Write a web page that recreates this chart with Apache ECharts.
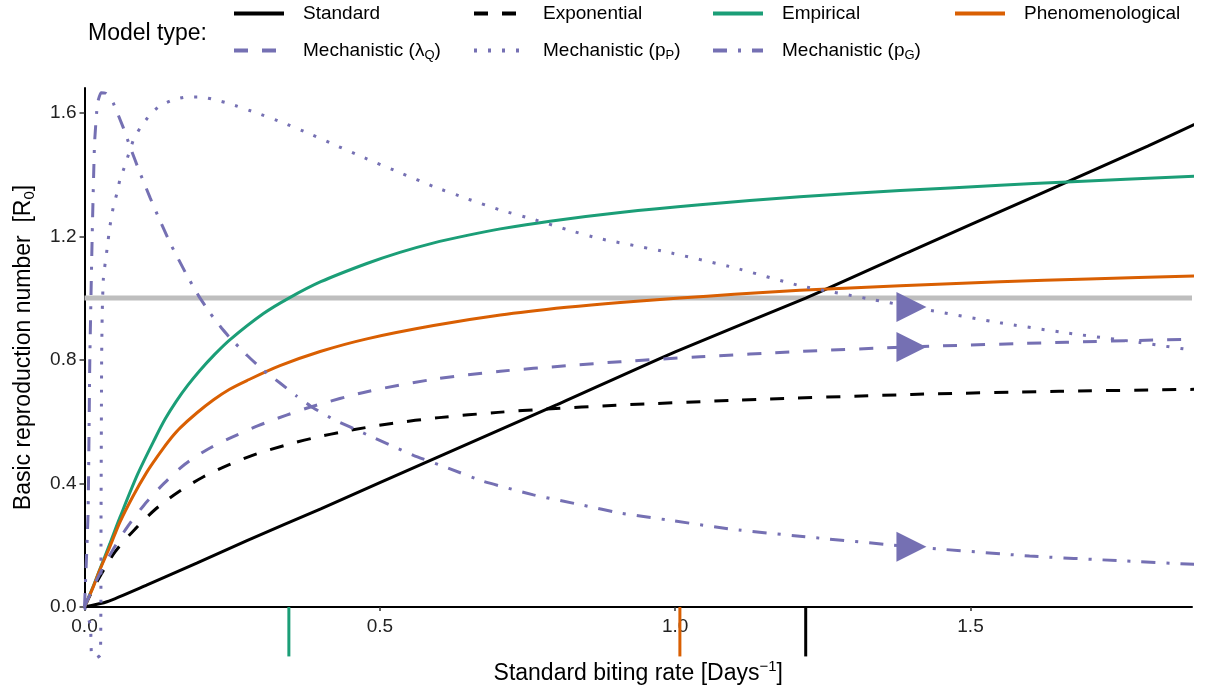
<!DOCTYPE html>
<html><head><meta charset="utf-8">
<script src="https://cdn.jsdelivr.net/npm/echarts@6/dist/echarts.min.js"></script>
<style>html,body{margin:0;padding:0;background:#fff}#c{width:1213px;height:695px}</style>
</head><body><div id="c"></div>
<script>
// ---------- data ----------
const xTicks = [0, 0.5, 1.0, 1.5];
const yTicks = [0, 0.4, 0.8, 1.2, 1.6];
const xMax = 1.875;
const yMax = 1.68;

const standard = [[0,0],[0.038,0.017],[0.105,0.071],[0.19,0.142],[0.275,0.215],[0.4,0.318],[0.6,0.487],[0.8,0.655],[1.0,0.826],[1.221,1.0],[1.4,1.153],[1.6,1.322],[1.8,1.492],[1.894,1.575]];
const exponential = [[0,0],[0.022,0.085],[0.052,0.179],[0.086,0.253],[0.121,0.318],[0.157,0.37],[0.2,0.42],[0.244,0.46],[0.289,0.494],[0.337,0.522],[0.385,0.546],[0.45,0.572],[0.52,0.594],[0.6,0.613],[0.7,0.63],[0.783,0.641],[0.9,0.653],[1.1,0.669],[1.4,0.688],[1.65,0.698],[1.894,0.705]];
const empirical = [[0,0],[0.015,0.068],[0.026,0.122],[0.043,0.205],[0.06,0.29],[0.09,0.43],[0.12,0.548],[0.137,0.61],[0.155,0.665],[0.175,0.718],[0.195,0.765],[0.22,0.817],[0.246,0.865],[0.303,0.95],[0.346,1.0],[0.4,1.053],[0.478,1.112],[0.534,1.148],[0.59,1.178],[0.648,1.203],[0.704,1.224],[0.788,1.249],[0.907,1.277],[1.042,1.302],[1.211,1.328],[1.381,1.348],[1.55,1.365],[1.663,1.376],[1.894,1.396]];
const phenomenological = [[0,0],[0.015,0.066],[0.026,0.12],[0.043,0.195],[0.06,0.275],[0.083,0.362],[0.105,0.435],[0.12,0.478],[0.133,0.513],[0.147,0.548],[0.162,0.58],[0.19,0.628],[0.218,0.67],[0.245,0.704],[0.275,0.733],[0.331,0.781],[0.399,0.827],[0.478,0.868],[0.591,0.911],[0.704,0.945],[0.816,0.97],[0.907,0.986],[1.008,1.0],[1.1,1.012],[1.211,1.025],[1.381,1.04],[1.55,1.053],[1.7,1.062],[1.894,1.072]];
const mechLambdaQ = [[0,0],[0.02,0.085],[0.045,0.175],[0.07,0.252],[0.1,0.328],[0.135,0.401],[0.17,0.462],[0.208,0.51],[0.249,0.549],[0.294,0.587],[0.342,0.621],[0.387,0.65],[0.478,0.697],[0.591,0.737],[0.704,0.763],[0.816,0.781],[0.907,0.794],[1.042,0.81],[1.211,0.827],[1.4,0.842],[1.663,0.857],[1.894,0.868]];
const mechPP = [[0,0],[0.010,-0.06],[0.012,-0.155],[0.02,-0.165],[0.027,-0.155],[0.028,0.3],[0.029,0.8],[0.030,0.95],[0.032,1.065],[0.038,1.156],[0.043,1.232],[0.049,1.297],[0.055,1.34],[0.06,1.383],[0.069,1.432],[0.083,1.513],[0.094,1.55],[0.111,1.594],[0.128,1.623],[0.15,1.642],[0.173,1.651],[0.198,1.651],[0.221,1.642],[0.246,1.629],[0.292,1.599],[0.337,1.567],[0.382,1.531],[0.427,1.493],[0.469,1.458],[0.534,1.406],[0.591,1.361],[0.647,1.322],[0.704,1.285],[0.76,1.255],[0.816,1.222],[0.873,1.192],[0.986,1.149],[1.099,1.099],[1.211,1.04],[1.324,0.999],[1.426,0.962],[1.55,0.92],[1.663,0.887],[1.776,0.859],[1.877,0.831]];
const mechPG = [[0,0],[0.006,0.3],[0.009,0.8],[0.013,1.2],[0.017,1.5],[0.022,1.63],[0.028,1.665],[0.036,1.663],[0.043,1.65],[0.049,1.63],[0.066,1.55],[0.077,1.49],[0.094,1.405],[0.111,1.325],[0.128,1.25],[0.145,1.178],[0.173,1.075],[0.193,1.008],[0.212,0.953],[0.232,0.903],[0.246,0.872],[0.275,0.815],[0.303,0.766],[0.331,0.725],[0.359,0.683],[0.387,0.645],[0.421,0.608],[0.478,0.558],[0.557,0.491],[0.619,0.447],[0.675,0.407],[0.76,0.363],[0.845,0.329],[0.907,0.304],[0.986,0.282],[1.099,0.251],[1.211,0.229],[1.4,0.195],[1.6,0.165],[1.75,0.15],[1.889,0.137]];
const thresholdEmpirical = 0.346;
const thresholdPhenomenological = 1.008;
const thresholdStandard = 1.221;
const thresholdDepth = -0.16;
const arrowX = 1.40;
const arrowYs = [0.971, 0.842, 0.195];
const referenceLevel = 1.0;

// ---------- chart ----------
const FONT = 'Liberation Sans, Arial, Helvetica, sans-serif';
const BLACK = '#000000', GREEN = '#1b9e77', ORANGE = '#d95f02', PURPLE = '#7570b3';
const LW = 3;

function lineSeries(name, data, color, type, smooth) {
  return {
    name, type: 'line', data, symbol: 'none', clip: false, silent: true,
    smooth: smooth || false,
    lineStyle: { color, width: LW, type, cap: 'butt' },
    itemStyle: { color }, z: 2, animation: false
  };
}
function tickSeries(x, color) {
  return {
    type: 'line', data: [[x, 0], [x, thresholdDepth]], symbol: 'none', clip: false, silent: true,
    lineStyle: { color, width: LW }, z: 3, animation: false
  };
}

const dashed = [14, 14];
const dotted = [3, 11];
const dotdash = [14, 11, 3, 11];

const richLegend = {
  t: { fontSize: 19, fontFamily: FONT, color: '#000', lineHeight: 22 },
  s: { fontSize: 13, fontFamily: FONT, color: '#000', lineHeight: 12, verticalAlign: 'bottom' }
};
const legendLabel = {
  'Standard': '{t|Standard}',
  'Exponential': '{t|Exponential}',
  'Empirical': '{t|Empirical}',
  'Phenomenological': '{t|Phenomenological}',
  'Mechanistic (λQ)': '{t|Mechanistic (λ}{s|Q}{t|)}',
  'Mechanistic (pP)': '{t|Mechanistic (p}{s|P}{t|)}',
  'Mechanistic (pG)': '{t|Mechanistic (p}{s|G}{t|)}'
};
function legendAt(name, left, top) {
  return {
    data: [name], left, top, padding: 0, itemWidth: 50, itemHeight: 14,
    selectedMode: false,
    lineStyle: { width: 4 },
    itemStyle: { color: 'rgba(0,0,0,0)', borderColor: 'rgba(0,0,0,0)', borderWidth: 0 },
    formatter: n => legendLabel[n],
    textStyle: { rich: richLegend, padding: [0, 0, 0, 14] }
  };
}

const option = {
  backgroundColor: '#ffffff',
  animation: false,
  textStyle: { fontFamily: FONT },
  grid: { left: 84.5, right: 21, top: 88, bottom: 88, containLabel: false },
  graphic: [{
    type: 'text', left: 88, top: 22,
    style: { text: 'Model type:', fontSize: 23, fontFamily: FONT, fill: '#000' }
  }],
  legend: [
    legendAt('Standard', 232, 4),
    legendAt('Exponential', 472, 4),
    legendAt('Empirical', 711, 4),
    legendAt('Phenomenological', 953, 4),
    legendAt('Mechanistic (λQ)', 232, 41),
    legendAt('Mechanistic (pP)', 472, 41),
    legendAt('Mechanistic (pG)', 711, 41)
  ],
  xAxis: {
    type: 'value', min: 0, max: xMax,
    name: '{a|Standard biting rate [Days}{b|−1}{a|]}',
    nameLocation: 'middle', nameGap: 52,
    nameTextStyle: {
      rich: {
        a: { fontSize: 23, fontFamily: FONT, color: '#000', lineHeight: 30 },
        b: { fontSize: 15, fontFamily: FONT, color: '#000', lineHeight: 12, verticalAlign: 'top' }
      }
    },
    axisLine: { show: true, onZero: false, lineStyle: { color: '#000', width: 2 } },
    axisTick: { show: true, length: 4, customValues: xTicks, lineStyle: { color: '#333', width: 1.5 } },
    axisLabel: { customValues: xTicks, margin: 10, fontSize: 19, color: '#222', fontFamily: FONT,
      formatter: v => v.toFixed(1) },
    splitLine: { show: false }
  },
  yAxis: {
    type: 'value', min: 0, max: yMax,
    name: '{a|Basic reproduction number  [R}{b|0}{a|]}',
    nameLocation: 'middle', nameGap: 47, nameRotate: 90,
    nameTextStyle: {
      rich: {
        a: { fontSize: 23, fontFamily: FONT, color: '#000', lineHeight: 28 },
        b: { fontSize: 15, fontFamily: FONT, color: '#000', lineHeight: 14, verticalAlign: 'bottom' }
      }
    },
    axisLine: { show: true, onZero: false, lineStyle: { color: '#000', width: 2 } },
    axisTick: { show: true, length: 5, customValues: yTicks, lineStyle: { color: '#333', width: 1.5 } },
    axisLabel: { customValues: yTicks, margin: 8, fontSize: 19, color: '#222', fontFamily: FONT,
      formatter: v => v.toFixed(1) },
    splitLine: { show: false }
  },
  series: [
    {
      type: 'line', data: [[0, referenceLevel], [xMax, referenceLevel]], symbol: 'none', silent: true,
      lineStyle: { color: '#bebebe', width: 5 }, z: 1, animation: false
    },
    lineSeries('Standard', standard, BLACK, 'solid', 0.2),
    lineSeries('Exponential', exponential, BLACK, dashed, 0.3),
    lineSeries('Empirical', empirical, GREEN, 'solid', 0.3),
    lineSeries('Phenomenological', phenomenological, ORANGE, 'solid', 0.3),
    lineSeries('Mechanistic (λQ)', mechLambdaQ, PURPLE, dashed, 0.3),
    lineSeries('Mechanistic (pP)', mechPP, PURPLE, dotted, 0.15),
    lineSeries('Mechanistic (pG)', mechPG, PURPLE, dotdash, 0.15),
    tickSeries(thresholdEmpirical, GREEN),
    tickSeries(thresholdPhenomenological, ORANGE),
    tickSeries(thresholdStandard, BLACK),
    {
      type: 'scatter', data: arrowYs.map(y => [arrowX, y]), symbol: 'triangle',
      symbolSize: [30, 30], symbolRotate: -90, silent: true, clip: false,
      itemStyle: { color: PURPLE, opacity: 1 }, z: 5, animation: false
    }
  ]
};
const chart = echarts.init(document.getElementById('c'), null, { renderer: 'canvas' });
chart.setOption(option);
</script></body></html>
